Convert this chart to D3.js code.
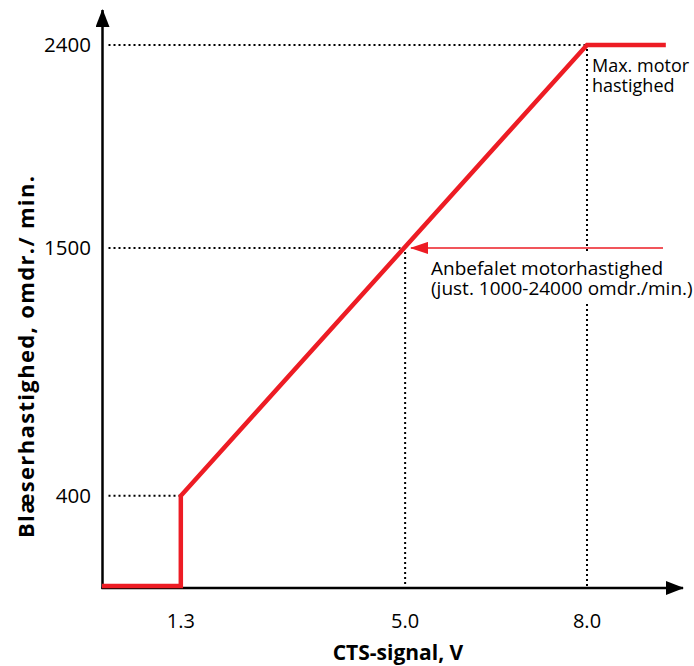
<!DOCTYPE html>
<html>
<head>
<meta charset="utf-8">
<script src="https://cdn.jsdelivr.net/npm/d3@7"></script>
<style>
  body { margin: 0; background: #fff; }
  svg { display: block; }
</style>
</head>
<body>
<div id="chart"></div>
<script>
// Fan speed versus CTS signal

// curve points: signal (V) and fan speed (rpm)
const signalV = [0, 1.3, 1.3, 8.0, 9.3];
const speedRpm = [0, 0, 400, 2400, 2400];

// tick values
const xTicks = [1.3, 5.0, 8.0];
const yTicks = [400, 1500, 2400];
const xTickLabels = ["1.3", "5.0", "8.0"];
const yTickLabels = ["400", "1500", "2400"];

// dotted guide points (horizontal to y-axis, vertical to x-axis)
const guideX = [1.3, 5.0, 8.0];
const guideY = [400, 1500, 2400];
const guideVertical = [false, true, true];

// annotations
const recommendedSpeed = 1500;
const recommendedLines = ["Anbefalet motorhastighed", "(just. 1000-24000 omdr./min.)"];
const maxLines = ["Max. motor", "hastighed"];

const xLabel = "CTS-signal, V";
const yLabel = "Blæserhastighed, omdr./ min.";

const width = 694, height = 666;
const red = "#ed1c24";
const font = "'Open Sans', sans-serif";

let svg = d3.select("#chart")
  .append("svg")
  .attr("width", width)
  .attr("height", height);

let xScale = d3.scaleLinear()
  .domain([0, 8])
  .range([102, 587]);

let yScale = d3.scaleLinear()
  .domain([0, 2400])
  .range([586, 45]);

let axisY = 588, axisX = 102.5;

// arrow markers
let defs = svg.append("defs");
defs.append("marker")
  .attr("id", "axisArrow")
  .attr("viewBox", "0 0 18 14")
  .attr("refX", 17).attr("refY", 7)
  .attr("markerWidth", 18).attr("markerHeight", 14)
  .attr("markerUnits", "userSpaceOnUse")
  .attr("orient", "auto")
  .append("path")
  .attr("d", "M0,0 L18,7 L0,14 Z")
  .attr("fill", "#000");

defs.append("marker")
  .attr("id", "redArrow")
  .attr("viewBox", "0 0 18 12")
  .attr("refX", 17).attr("refY", 6)
  .attr("markerWidth", 18).attr("markerHeight", 12)
  .attr("markerUnits", "userSpaceOnUse")
  .attr("orient", "auto")
  .append("path")
  .attr("d", "M0,0 L18,6 L0,12 Z")
  .attr("fill", red);

// dotted guides
let guides = svg.append("g")
  .attr("stroke", "#000")
  .attr("stroke-width", 2)
  .attr("stroke-dasharray", "2,3");

guides.selectAll(".hguide")
  .data(guideX)
  .enter()
  .append("line")
  .attr("class", "hguide")
  .attr("x1", axisX + 6)
  .attr("x2", (d) => xScale(d))
  .attr("y1", (d, i) => yScale(guideY[i]))
  .attr("y2", (d, i) => yScale(guideY[i]));

guides.selectAll(".vguide")
  .data(guideX.filter((d, i) => guideVertical[i]))
  .enter()
  .append("line")
  .attr("class", "vguide")
  .attr("x1", (d) => xScale(d))
  .attr("x2", (d) => xScale(d))
  .attr("y1", (d) => yScale(guideY[guideX.indexOf(d)]) + 4)
  .attr("y2", axisY);

// axes
svg.append("line")
  .attr("x1", axisX).attr("x2", axisX)
  .attr("y1", axisY + 1).attr("y2", 10)
  .attr("stroke", "#000")
  .attr("stroke-width", 2.5)
  .attr("marker-end", "url(#axisArrow)");

svg.append("line")
  .attr("x1", axisX - 1).attr("x2", 683)
  .attr("y1", axisY).attr("y2", axisY)
  .attr("stroke", "#000")
  .attr("stroke-width", 2.5)
  .attr("marker-end", "url(#axisArrow)");

// tick labels
svg.selectAll(".xtick")
  .data(xTicks)
  .enter()
  .append("text")
  .attr("class", "xtick")
  .attr("x", (d) => xScale(d))
  .attr("y", 628)
  .attr("text-anchor", "middle")
  .attr("font-family", font)
  .attr("font-size", 20)
  .text((d, i) => xTickLabels[i]);

svg.selectAll(".ytick")
  .data(yTicks)
  .enter()
  .append("text")
  .attr("class", "ytick")
  .attr("x", 91)
  .attr("y", (d) => yScale(d))
  .attr("dy", "0.36em")
  .attr("text-anchor", "end")
  .attr("font-family", font)
  .attr("font-size", 20.5)
  .text((d, i) => yTickLabels[i]);

// axis titles
svg.append("text")
  .attr("x", 398)
  .attr("y", 660)
  .attr("text-anchor", "middle")
  .attr("font-family", font)
  .attr("font-weight", "bold")
  .attr("font-size", 21)
  .text(xLabel);

svg.append("text")
  .attr("transform", "translate(34,357) rotate(-90)")
  .attr("text-anchor", "middle")
  .attr("font-family", font)
  .attr("font-weight", "bold")
  .attr("font-size", 22)
  .attr("textLength", 362)
  .attr("lengthAdjust", "spacing")
  .text(yLabel);

// red curve
let lineCreator = d3.line()
  .x((d, i) => xScale(signalV[i]))
  .y((d) => yScale(d));

svg.append("path")
  .datum(speedRpm)
  .attr("fill", "none")
  .attr("stroke", red)
  .attr("stroke-width", 4.5)
  .attr("stroke-linejoin", "miter")
  .attr("d", lineCreator);

// recommended speed pointer
svg.append("line")
  .attr("x1", 663)
  .attr("x2", 411)
  .attr("y1", yScale(recommendedSpeed))
  .attr("y2", yScale(recommendedSpeed))
  .attr("stroke", red)
  .attr("stroke-width", 1.5)
  .attr("marker-end", "url(#redArrow)");

// white backing so the 8.0 guide breaks behind the note
let noteBg = svg.append("rect").attr("fill", "#fff");

let note = svg.append("text")
  .attr("font-family", font)
  .attr("font-size", 19);

note.selectAll("tspan")
  .data(recommendedLines)
  .enter()
  .append("tspan")
  .attr("x", 431)
  .attr("y", (d, i) => 275 + i * 20)
  .text((d) => d);

let bb = note.node().getBBox();
noteBg
  .attr("x", bb.x)
  .attr("y", 252)
  .attr("width", bb.width)
  .attr("height", 304 - 252);

svg.append("text")
  .attr("font-family", font)
  .attr("font-size", 18)
  .selectAll("tspan")
  .data(maxLines)
  .enter()
  .append("tspan")
  .attr("x", 592)
  .attr("y", (d, i) => 72 + i * 20)
  .text((d) => d);
</script>
</body>
</html>
